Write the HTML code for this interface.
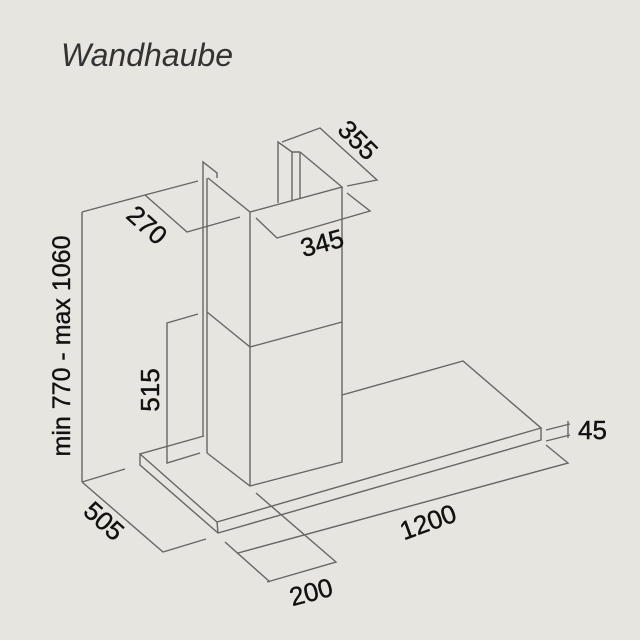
<!DOCTYPE html>
<html><head><meta charset="utf-8"><style>
html,body{margin:0;padding:0;background:#e6e5e0;}
svg{display:block}
text{font-family:"Liberation Sans",sans-serif;fill:#111;}
</style></head><body>
<svg width="640" height="640" viewBox="0 0 640 640">
<rect width="640" height="640" fill="#e6e5e0"/>
<text x="61" y="66" font-size="32" font-style="italic" style="fill:#333">Wandhaube</text>
<g stroke="#666" stroke-width="1.4" fill="none">
<polyline points="204,436 140,454 217,522 541,428 463,361 342,395"/>
<polyline points="140,454 140,465 218,533 541,440 541,428"/>
<line x1="217" y1="522" x2="218" y2="533"/>
<polyline points="203,436 203,162 217,173 217,178"/>
<line x1="207" y1="178" x2="207" y2="453"/>
<polyline points="207,453 250,486 342,462 342,187"/>
<line x1="250" y1="212" x2="250" y2="486"/>
<line x1="207" y1="312" x2="250" y2="347"/>
<line x1="250" y1="347" x2="342" y2="322"/>
<polyline points="208,178 250,212 342,187 300,152"/>
<polyline points="278,203 278,142 292,152 300,152"/>
<line x1="292" y1="152" x2="292" y2="200"/>
<line x1="300" y1="152" x2="300" y2="198"/>
<polyline points="82,212 145,195 198,181"/>
<polyline points="145,195 187,232 240,217"/>
<polyline points="256,218 277,238 370,211 347,193"/>
<polyline points="282,142 320,128 377,180 347,186"/>
<line x1="82" y1="212" x2="82" y2="482"/>
<line x1="82" y1="482" x2="125" y2="469"/>
<polyline points="82,482 163,552 206,539"/>
<polyline points="198,314 167,323 167,463 200,453"/>
<polyline points="546,445 568,463 238,553"/>
<line x1="225" y1="542" x2="270" y2="582"/>
<polyline points="256,493 336,562 267,582"/>
<line x1="546" y1="430" x2="570" y2="424"/>
<line x1="546" y1="441" x2="570" y2="435"/>
<line x1="568" y1="421" x2="568" y2="438"/>
</g>
<g font-size="26" stroke="#111" stroke-width="0.4">
<text transform="translate(70,346) rotate(-90)" text-anchor="middle" font-size="25">min 770 - max 1060</text>
<text transform="translate(147,225) rotate(42)" text-anchor="middle" dy="9">270</text>
<text transform="translate(322,243) rotate(-15)" text-anchor="middle" dy="9">345</text>
<text transform="translate(358,140) rotate(45)" text-anchor="middle" dy="9">355</text>
<text transform="translate(150,390) rotate(-90)" text-anchor="middle" dy="9">515</text>
<text transform="translate(104,521) rotate(42)" text-anchor="middle" dy="9">505</text>
<text transform="translate(428,522) rotate(-20)" text-anchor="middle" dy="9">1200</text>
<text transform="translate(311,592) rotate(-15)" text-anchor="middle" dy="9">200</text>
<text x="578" y="439">45</text>
</g>
</svg>
</body></html>
